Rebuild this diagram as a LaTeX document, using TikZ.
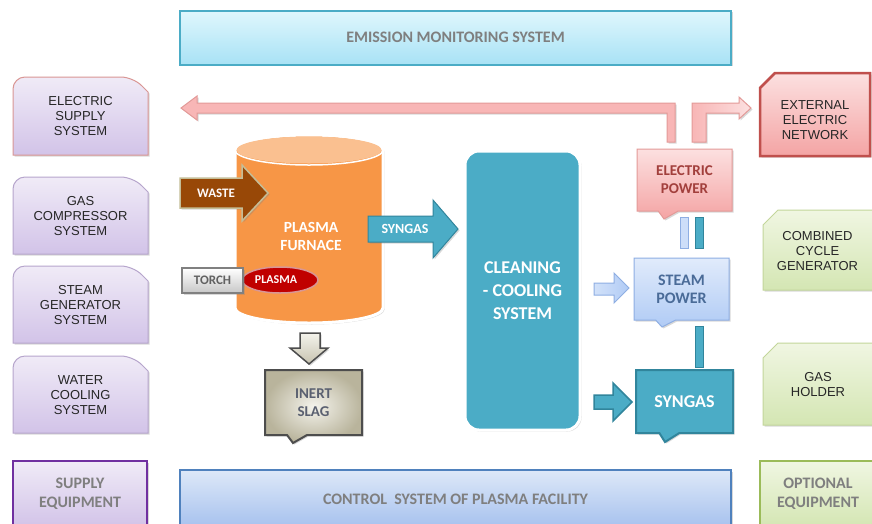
\documentclass[tikz,border=0pt]{standalone}
\usepackage{fontspec}
\setmainfont{Liberation Sans}
\newfontfamily\calfont{Carlito}
\usetikzlibrary{shapes.callouts,shapes.geometric,shadows}

\definecolor{lavtop}{HTML}{F0EBF7}
\definecolor{lavbot}{HTML}{D2C3E8}
\definecolor{lavline}{HTML}{B6A5CC}
\definecolor{lavred}{HTML}{D99694}
\definecolor{purp}{HTML}{7030A0}
\definecolor{grtop}{HTML}{F0F6E2}
\definecolor{grbot}{HTML}{D4E6B3}
\definecolor{grline}{HTML}{C3D69B}
\definecolor{grthick}{HTML}{9BBB59}
\definecolor{pktop}{HTML}{FCE0E0}
\definecolor{pkbot}{HTML}{F4A4A4}
\definecolor{redline}{HTML}{C0504D}
\definecolor{pkline}{HTML}{E39A98}
\definecolor{pkarrow}{HTML}{F8B6B6}
\definecolor{emtop}{HTML}{E0F7FD}
\definecolor{embot}{HTML}{A8E2F5}
\definecolor{emline}{HTML}{4BACC6}
\definecolor{cttop}{HTML}{DDE8F8}
\definecolor{ctbot}{HTML}{A6C1EE}
\definecolor{ctline}{HTML}{4F81BD}
\definecolor{tealc}{HTML}{4BACC6}
\definecolor{tealdk}{HTML}{31859C}
\definecolor{furn}{HTML}{F79646}
\definecolor{furntop}{HTML}{FAC090}
\definecolor{wastec}{HTML}{984807}
\definecolor{wasteline}{HTML}{C4BD97}
\definecolor{plasmared}{HTML}{C00000}
\definecolor{sttop}{HTML}{E1EBFB}
\definecolor{stbot}{HTML}{B0CBF5}
\definecolor{stline}{HTML}{8EAEE3}
\definecolor{sttext}{HTML}{4A6B98}
\definecolor{eptext}{HTML}{A23F3C}
\definecolor{txtgray}{HTML}{7F7F7F}
\definecolor{txtdark}{HTML}{262626}
\definecolor{slagtop}{HTML}{F4F3EC}
\definecolor{slagbot}{HTML}{B9B49C}
\definecolor{dkgray}{HTML}{4D4D4D}
\definecolor{slagtext}{HTML}{5A6070}

\newcommand\snipTR[5]{\path[#1] (#2,#5) [rounded corners=12pt] -- (#2,#3) -- ({#4-15},#3) [sharp corners] -- (#4,{#3+15}) -- (#4,#5) -- cycle;}
\newcommand\snipTL[5]{\path[#1] (#2,{#3+15}) -- ({#2+15},#3) -- (#4,#3) -- (#4,#5) -- (#2,#5) -- cycle;}

\tikzset{
  every node/.style={align=center, inner sep=0pt},
  shad/.style={drop shadow={opacity=.3, shadow xshift=1.5pt, shadow yshift=-1.5pt}},
  lav/.style={top color=lavtop, bottom color=lavbot, draw=lavline, line width=1pt, shad},
  grn/.style={top color=grtop, bottom color=grbot, draw=grline, line width=1pt, shad},
  ltext/.style={font=\fontsize{13}{15}\selectfont, text=txtdark},
  calb/.style 2 args={font=\calfont\bfseries\fontsize{#1}{#2}\selectfont},
  band/.style={rectangle, minimum width=551pt, line width=2pt, shad, calb={16}{19}, text=txtgray},
  equip/.style={rectangle, line width=2.5pt, calb={16}{19}, text=txtgray, shad},
  pinkarr/.style={fill=pkarrow, draw=pkline, line width=1pt, shad},
  pcall/.style={rectangle callout, callout pointer width=20pt, line width=1pt, shad},
}

\begin{document}
\begin{tikzpicture}[x=1pt,y=-1pt]
\useasboundingbox (0,0) rectangle (872,523);
\fill[white] (0,0) rectangle (872,523);

% top and bottom bands
\node[band, top color=emtop, bottom color=embot, draw=emline, minimum height=54pt] (ems) at (455.5,37.5) {EMISSION MONITORING SYSTEM};
\node[band, top color=cttop, bottom color=ctbot, draw=ctline, minimum height=58pt] (ctrl) at (455.5,499) {CONTROL\ \ SYSTEM OF PLASMA FACILITY};

% left column
\snipTR{lav, draw=lavred}{13}{77}{148}{155}
\node[ltext] (esup) at (80.5,116) {ELECTRIC\\SUPPLY\\SYSTEM};
\snipTR{lav}{13}{177}{148}{254}
\node[ltext] (gcomp) at (80.5,216) {GAS\\COMPRESSOR\\SYSTEM};
\snipTR{lav}{13}{266}{148}{343}
\node[ltext] (sgen) at (80.5,305) {STEAM\\GENERATOR\\SYSTEM};
\snipTR{lav}{13}{356}{148}{433}
\node[ltext] (wcool) at (80.5,395) {WATER\\COOLING\\SYSTEM};
\node[equip, top color=lavtop, bottom color=lavbot, draw=purp, minimum width=134pt, minimum height=66pt] (supeq) at (80,494) {SUPPLY\\EQUIPMENT};

% right column
\snipTL{top color=pktop, bottom color=pkbot, draw=redline, line width=2.5pt, shad}{760}{73}{870}{156}
\node[ltext] (extnet) at (815,120) {EXTERNAL\\ELECTRIC\\NETWORK};
\snipTL{grn}{763}{210}{876}{290}
\node[ltext] (ccg) at (817.5,251) {COMBINED\\CYCLE\\GENERATOR};
\snipTL{grn}{763}{343}{876}{425}
\node[ltext] (gash) at (818,385) {GAS\\HOLDER};
\node[equip, top color=grtop, bottom color=grbot, draw=grthick, minimum width=116pt, minimum height=66pt] (opteq) at (818,494) {OPTIONAL\\EQUIPMENT};

% pink power arrows
\path[pinkarr] (181,108) -- (197,96) -- (197,103) -- (675,103) -- (675,142) -- (667,142) -- (667,113) -- (197,113) -- (197,120) -- cycle;
\path[pinkarr, left color=pkarrow, right color=pktop] (692,142) -- (692,103) -- (739,103) -- (739,97) -- (751,108) -- (739,119) -- (739,113) -- (706,113) -- (706,142) -- cycle;

% furnace
\path[fill=furn, draw=white, line width=3pt, shad] (235,150) -- (235,308) arc[start angle=180, end angle=0, x radius=74, y radius=15] -- (383,150) arc[start angle=0, end angle=-180, x radius=74, y radius=15] -- cycle;
\fill[furntop] (309,150) ellipse[x radius=72.5, y radius=13.5];
\draw[white, line width=1.5pt] (235,150) arc[start angle=180, end angle=0, x radius=74, y radius=15];
\node[calb={15.5}{18}, text=white] (furnace) at (311,236) {PLASMA\\FURNACE};

% waste arrow
\path[fill=wastec, draw=wasteline, line width=1.5pt, shad] (180,178) -- (242,178) -- (242,165) -- (268,193) -- (242,221) -- (242,208) -- (180,208) -- cycle;
\node[calb={13}{15}, text=white!92!pink] (waste) at (216,193) {WASTE};

% plasma and torch
\node[ellipse, fill=plasmared, draw=lavred, line width=1.5pt, minimum width=76pt, minimum height=26pt, calb={12}{14}, text=white!90!pink] (plasma) at (280,280) {PLASMA\hspace*{8pt}};
\node[rectangle, top color=white, bottom color=black!22, draw=black!50, line width=2pt, minimum width=61pt, minimum height=25pt, calb={13}{15}, text=black!62, shad] (torch) at (212.5,280.5) {TORCH};

% syngas arrow
\path[fill=tealc, draw=tealdk, line width=1pt, shad] (368,216) -- (433,216) -- (433,200) -- (458,229) -- (433,258) -- (433,242) -- (368,242) -- cycle;
\node[calb={14}{16}, text=white] (syn1) at (405,229) {SYNGAS};

% slag arrow and box
\path[top color=slagtop, bottom color=slagbot!80, draw=dkgray, line width=1.5pt, shad] (300,333) -- (320,333) -- (320,348) -- (328,348) -- (309,364) -- (290,348) -- (300,348) -- cycle;
\node[pcall, inner color=slagtop, outer color=slagbot, draw=dkgray, line width=2pt, minimum width=97pt, minimum height=65pt, callout absolute pointer={(293,443)}, calb={15}{18}, text=slagtext] (slag) at (313.5,402.5) {INERT\\SLAG};

% cleaning - cooling system
\node[rectangle, rounded corners=14pt, fill=tealc, draw=white, line width=3pt, minimum width=115pt, minimum height=279pt, shad, calb={18}{23}, text=white] (clean) at (522.5,290.5) {CLEANING\\- COOLING\\SYSTEM};

% right chain
\node[pcall, top color=pktop, bottom color=pkbot, draw=pkline, minimum width=95pt, minimum height=62pt, callout absolute pointer={(664,219)}, calb={15}{18}, text=eptext] (epow) at (684.5,180) {ELECTRIC\\POWER};
\node[pcall, top color=sttop, bottom color=stbot, draw=stline, minimum width=95pt, minimum height=62pt, callout absolute pointer={(662,327)}, calb={16}{18}, text=sttext] (spow) at (681.5,289) {STEAM\\POWER};
\node[pcall, fill=tealc, draw=tealdk, line width=2pt, minimum width=97pt, minimum height=63pt, callout absolute pointer={(665,442)}, calb={18}{21}, text=white] (syn2) at (684.5,401.5) {SYNGAS};

\path[fill=sttop!60!stbot, draw=stline, line width=1pt] (680,217) rectangle (688,248);
\path[fill=tealc, draw=tealdk, line width=.5pt] (695,217) rectangle (703,248);
\path[fill=tealc, draw=tealdk, line width=.5pt] (695,326) rectangle (703,367);

\path[left color=sttop!70!stbot, right color=stbot, draw=stline, line width=1pt] (594,283) -- (614,283) -- (614,273) -- (629,288) -- (614,303) -- (614,295) -- (594,295) -- cycle;
\path[fill=tealc, draw=tealdk, line width=1.5pt] (594,395) -- (613,395) -- (613,383) -- (632,402) -- (613,421) -- (613,409) -- (594,409) -- cycle;
\end{tikzpicture}
\end{document}
